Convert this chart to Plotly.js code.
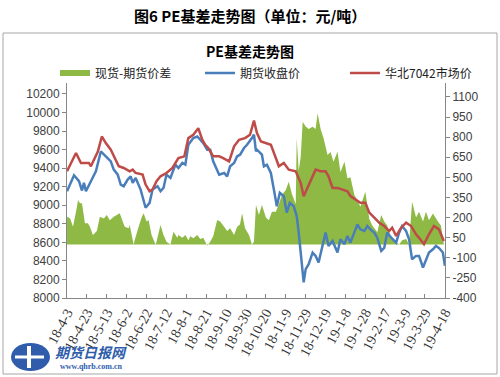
<!DOCTYPE html>
<html><head><meta charset="utf-8">
<script src="https://cdn.plot.ly/plotly-3.0.1.min.js"></script>
<style>html,body{margin:0;padding:0;background:#fff}#chart{width:500px;height:377px}</style>
</head><body><div id="chart"></div>
<script>
// ---- data ----
const spreadDates = ['2018-04-03','2018-04-06','2018-04-09','2018-04-13','2018-04-14','2018-04-16','2018-04-18','2018-04-21','2018-04-24','2018-04-26',
'2018-04-29','2018-05-03','2018-05-06','2018-05-10','2018-05-13','2018-05-16','2018-05-20','2018-05-23','2018-05-26','2018-05-30',
'2018-05-31','2018-06-04','2018-06-05','2018-06-09','2018-06-10','2018-06-14','2018-06-17','2018-06-19','2018-06-22','2018-06-24',
'2018-06-27','2018-07-01','2018-07-02','2018-07-06','2018-07-09','2018-07-12','2018-07-16','2018-07-19','2018-07-23','2018-07-24',
'2018-07-28','2018-07-31','2018-08-03','2018-08-05','2018-08-08','2018-08-12','2018-08-15','2018-08-18','2018-08-20','2018-08-22',
'2018-08-25','2018-08-28','2018-09-01','2018-09-04','2018-09-08','2018-09-11','2018-09-14','2018-09-18','2018-09-21','2018-09-24',
'2018-09-26','2018-09-29','2018-10-03','2018-10-06','2018-10-08','2018-10-10','2018-10-13','2018-10-16','2018-10-20','2018-10-23',
'2018-10-26','2018-10-30','2018-11-02','2018-11-05','2018-11-09','2018-11-12','2018-11-15','2018-11-19','2018-11-20','2018-11-22',
'2018-11-24','2018-11-26','2018-11-29','2018-12-02','2018-12-06','2018-12-09','2018-12-11','2018-12-14','2018-12-17','2018-12-21',
'2018-12-24','2018-12-27','2018-12-31','2019-01-03','2019-01-07','2019-01-10','2019-01-13','2019-01-17','2019-01-20','2019-01-23',
'2019-01-28','2019-02-01','2019-02-04','2019-02-09','2019-02-13','2019-02-16','2019-02-19','2019-02-23','2019-02-28','2019-03-03',
'2019-03-06','2019-03-10','2019-03-13','2019-03-16','2019-03-20','2019-03-23','2019-03-27','2019-03-30','2019-04-02','2019-04-06',
'2019-04-11','2019-04-14','2019-04-17'];
const spreadValues = [206,195,132,280,331,306,306,157,157,132,
70,100,207,194,219,180,207,219,232,150,
132,120,145,0,30,132,200,232,170,182,
70,0,20,145,70,20,0,95,50,70,
50,70,30,60,45,70,40,50,20,-10,
20,60,182,170,132,100,120,70,130,150,
232,120,70,0,20,294,220,294,200,180,
244,244,300,368,406,468,380,300,791,550,
650,915,880,860,878,860,978,860,791,667,
690,617,691,540,617,493,500,368,330,280,
393,190,140,90,219,170,140,40,15,0,
30,40,0,318,200,244,170,244,180,230,
170,140,0];

const futuresDates = ['2018-04-03','2018-04-10','2018-04-15','2018-04-18','2018-04-20','2018-04-22','2018-04-27','2018-05-02','2018-05-07','2018-05-12',
'2018-05-17','2018-05-20','2018-05-24','2018-05-27','2018-05-30','2018-06-03','2018-06-06','2018-06-08','2018-06-11','2018-06-16',
'2018-06-21','2018-06-25','2018-06-28','2018-07-03','2018-07-06','2018-07-09','2018-07-12','2018-07-16','2018-07-21','2018-07-24',
'2018-07-28','2018-07-31','2018-08-03','2018-08-08','2018-08-12','2018-08-15','2018-08-18','2018-08-22','2018-08-25','2018-08-28',
'2018-09-03','2018-09-08','2018-09-11','2018-09-14','2018-09-18','2018-09-21','2018-09-24','2018-09-28','2018-10-01','2018-10-06',
'2018-10-08','2018-10-10','2018-10-11','2018-10-16','2018-10-18','2018-10-21','2018-10-25','2018-10-28','2018-10-31','2018-11-03',
'2018-11-07','2018-11-10','2018-11-13','2018-11-17','2018-11-20','2018-11-22','2018-11-24','2018-11-27','2018-11-29','2018-12-02',
'2018-12-06','2018-12-09','2018-12-12','2018-12-16','2018-12-19','2018-12-22','2018-12-26','2018-12-31','2019-01-03','2019-01-07',
'2019-01-10','2019-01-13','2019-01-17','2019-01-20','2019-01-23','2019-01-27','2019-01-30','2019-02-02','2019-02-06','2019-02-09',
'2019-02-13','2019-02-16','2019-02-19','2019-02-23','2019-02-28','2019-03-03','2019-03-06','2019-03-10','2019-03-13','2019-03-16',
'2019-03-20','2019-03-23','2019-03-27','2019-03-30','2019-04-02','2019-04-06','2019-04-09','2019-04-12','2019-04-16','2019-04-18'];
const futuresValues = [9151,9323,9259,9159,9241,9151,9259,9366,9580,9527,
9473,9384,9330,9223,9205,9277,9312,9241,9295,9169,
8973,9026,9169,9205,9151,9187,9330,9295,9438,9402,
9456,9438,9652,9724,9741,9706,9670,9599,9599,9473,
9330,9348,9312,9420,9456,9527,9545,9617,9652,9724,
9760,9580,9599,9545,9420,9438,9348,9169,8990,9134,
9098,8920,9026,8990,8883,8705,8454,8168,8311,8365,
8490,8454,8383,8561,8705,8561,8615,8490,8633,8580,
8669,8597,8705,8794,8740,8722,8776,8740,8705,8650,
8508,8540,8705,8650,8597,8705,8776,8722,8633,8418,
8454,8454,8329,8418,8490,8525,8561,8540,8490,8347];

const spotDates = ['2018-04-03','2018-04-12','2018-04-17','2018-04-25','2018-04-27','2018-05-04','2018-05-08','2018-05-12','2018-05-17','2018-05-22',
'2018-05-25','2018-05-30','2018-06-05','2018-06-08','2018-06-11','2018-06-18','2018-06-21','2018-06-25','2018-06-28','2018-07-02',
'2018-07-06','2018-07-12','2018-07-18','2018-07-24','2018-07-30','2018-08-03','2018-08-08','2018-08-13','2018-08-17','2018-08-20',
'2018-08-23','2018-08-28','2018-09-03','2018-09-07','2018-09-13','2018-09-18','2018-09-23','2018-09-29','2018-10-04','2018-10-08',
'2018-10-11','2018-10-15','2018-10-21','2018-10-25','2018-10-30','2018-11-02','2018-11-07','2018-11-12','2018-11-19','2018-11-24',
'2018-11-27','2018-12-01','2018-12-04','2018-12-09','2018-12-14','2018-12-19','2018-12-22','2018-12-26','2018-12-31','2019-01-05',
'2019-01-10','2019-01-13','2019-01-18','2019-01-23','2019-01-28','2019-02-01','2019-02-06','2019-02-11','2019-02-16','2019-02-21',
'2019-02-24','2019-02-28','2019-03-05','2019-03-10','2019-03-15','2019-03-20','2019-03-23','2019-03-28','2019-04-02','2019-04-07',
'2019-04-12','2019-04-17'];
const spotValues = [9366,9563,9456,9456,9420,9580,9741,9670,9599,9491,
9420,9402,9366,9384,9348,9330,9223,9151,9170,9259,
9312,9348,9402,9509,9527,9724,9760,9831,9706,9652,
9617,9527,9527,9509,9473,9635,9706,9724,9760,9912,
9778,9688,9670,9652,9509,9420,9456,9384,9366,9241,
9098,9190,9277,9384,9366,9366,9312,9187,9187,9169,
9151,9098,9062,9026,9026,8920,8866,8812,8776,8722,
8758,8669,8758,8812,8776,8687,8650,8580,8687,8776,
8740,8615];

const seriesNames = ['现货-期货价差','期货收盘价','华北7042市场价'];
const priceTicks = [8000,8200,8400,8600,8800,9000,9200,9400,9600,9800,10000,10200];
const spreadTicks = [-400,-250,-100,50,200,350,500,650,800,950,1100];
const chartTitle = 'PE基差走势图';
const caption = '图6 PE基差走势图（单位：元/吨）';

// ---- layout helpers (pixel -> paper) ----
const L = 67, R = 445, T = 83, B = 298;
const px = x => (x - L) / (R - L);
const py = y => (B - y) / (B - T);
const cjk = '"Noto Sans CJK SC", "Liberation Sans", sans-serif';
const axisGray = '#868686';

const traces = [
  {x: spreadDates, y: spreadValues, name: seriesNames[0], type: 'scatter', mode: 'none',
   fill: 'tozeroy', fillcolor: '#8DB944', yaxis: 'y'},
  {x: futuresDates, y: futuresValues, name: seriesNames[1], type: 'scatter', mode: 'lines',
   line: {color: '#4A7EBB', width: 2.5}, yaxis: 'y2'},
  {x: spotDates, y: spotValues, name: seriesNames[2], type: 'scatter', mode: 'lines',
   line: {color: '#BE4B48', width: 2.5}, yaxis: 'y2'}
];

const layout = {
  width: 500, height: 377,
  margin: {l: L, r: 500 - R, t: T, b: 377 - B, pad: 0},
  paper_bgcolor: '#fff', plot_bgcolor: '#fff',
  showlegend: true,
  title: {text: '<b>' + chartTitle + '</b>', x: 0.5, xanchor: 'center', y: 1 - 52/377, yanchor: 'middle',
          font: {family: cjk, size: 14, color: '#000'}},
  legend: {orientation: 'h', x: px(55), xanchor: 'left', y: py(73), yanchor: 'middle',
           font: {family: cjk, size: 12, color: '#222'}, bgcolor: 'rgba(0,0,0,0)',
           itemwidth: 30, entrywidth: 100, traceorder: 'normal'},
  xaxis: {type: 'date', range: ['2018-04-02 23:00', '2019-04-18 03:00'],
          tick0: '2018-04-03', dtick: 20 * 86400000, tickformat: '%y-%-m-%-d',
          tickangle: -62, ticks: 'inside', ticklen: 4, tickcolor: axisGray,
          showline: true, linecolor: axisGray, linewidth: 1, showgrid: false, zeroline: false,
          tickfont: {family: '"Liberation Serif", serif', size: 14, color: '#333'}},
  yaxis: {side: 'right', range: [-400, 1204], tickvals: spreadTicks, ticktext: spreadTicks.map(String),
          ticks: 'outside', ticklen: 4, tickcolor: axisGray, showline: true, linecolor: axisGray,
          showgrid: false, zeroline: false,
          tickfont: {family: '"Liberation Sans", sans-serif', size: 12, color: '#404040'}},
  yaxis2: {side: 'left', overlaying: 'y', range: [8000, 10318], tickvals: priceTicks, ticktext: priceTicks.map(String),
           ticks: 'outside', ticklen: 4, tickcolor: axisGray, showline: true, linecolor: axisGray,
           showgrid: false, zeroline: false,
           tickfont: {family: '"Liberation Sans", sans-serif', size: 12, color: '#404040'}},
  shapes: [
    {type: 'rect', xref: 'paper', yref: 'paper', x0: px(3), x1: px(497), y0: py(374), y1: py(33),
     line: {color: '#a6a6a6', width: 1}, fillcolor: 'rgba(0,0,0,0)', layer: 'below'},
    {type: 'circle', xref: 'paper', yref: 'paper', x0: px(11), x1: px(50), y0: py(371), y1: py(343),
     line: {width: 0}, fillcolor: '#2f5dab'},
    {type: 'rect', xref: 'paper', yref: 'paper', x0: px(27), x1: px(31), y0: py(368), y1: py(346),
     line: {width: 0}, fillcolor: '#fff'},
    {type: 'rect', xref: 'paper', yref: 'paper', x0: px(15), x1: px(44), y0: py(358.5), y1: py(355.5),
     line: {width: 0}, fillcolor: '#fff'}
  ],
  annotations: [
    {text: '<b>' + caption + '</b>', xref: 'paper', yref: 'paper', x: px(250), y: py(15),
     xanchor: 'center', yanchor: 'middle', showarrow: false, font: {family: cjk, size: 15, color: '#000'}},
    {text: '<b><i>期货日报网</i></b>', xref: 'paper', yref: 'paper', x: px(53), y: py(352),
     xanchor: 'left', yanchor: 'middle', showarrow: false, font: {family: cjk, size: 14, color: '#2f5dab'}},
    {text: '<b>www.qhrb.com.cn</b>', xref: 'paper', yref: 'paper', x: px(58), y: py(366),
     xanchor: 'left', yanchor: 'middle', showarrow: false, font: {family: '"Liberation Serif", serif', size: 8, color: '#2f5dab'}}
  ]
};

Plotly.newPlot('chart', traces, layout, {displayModeBar: false, staticPlot: true});
</script>
</body></html>
